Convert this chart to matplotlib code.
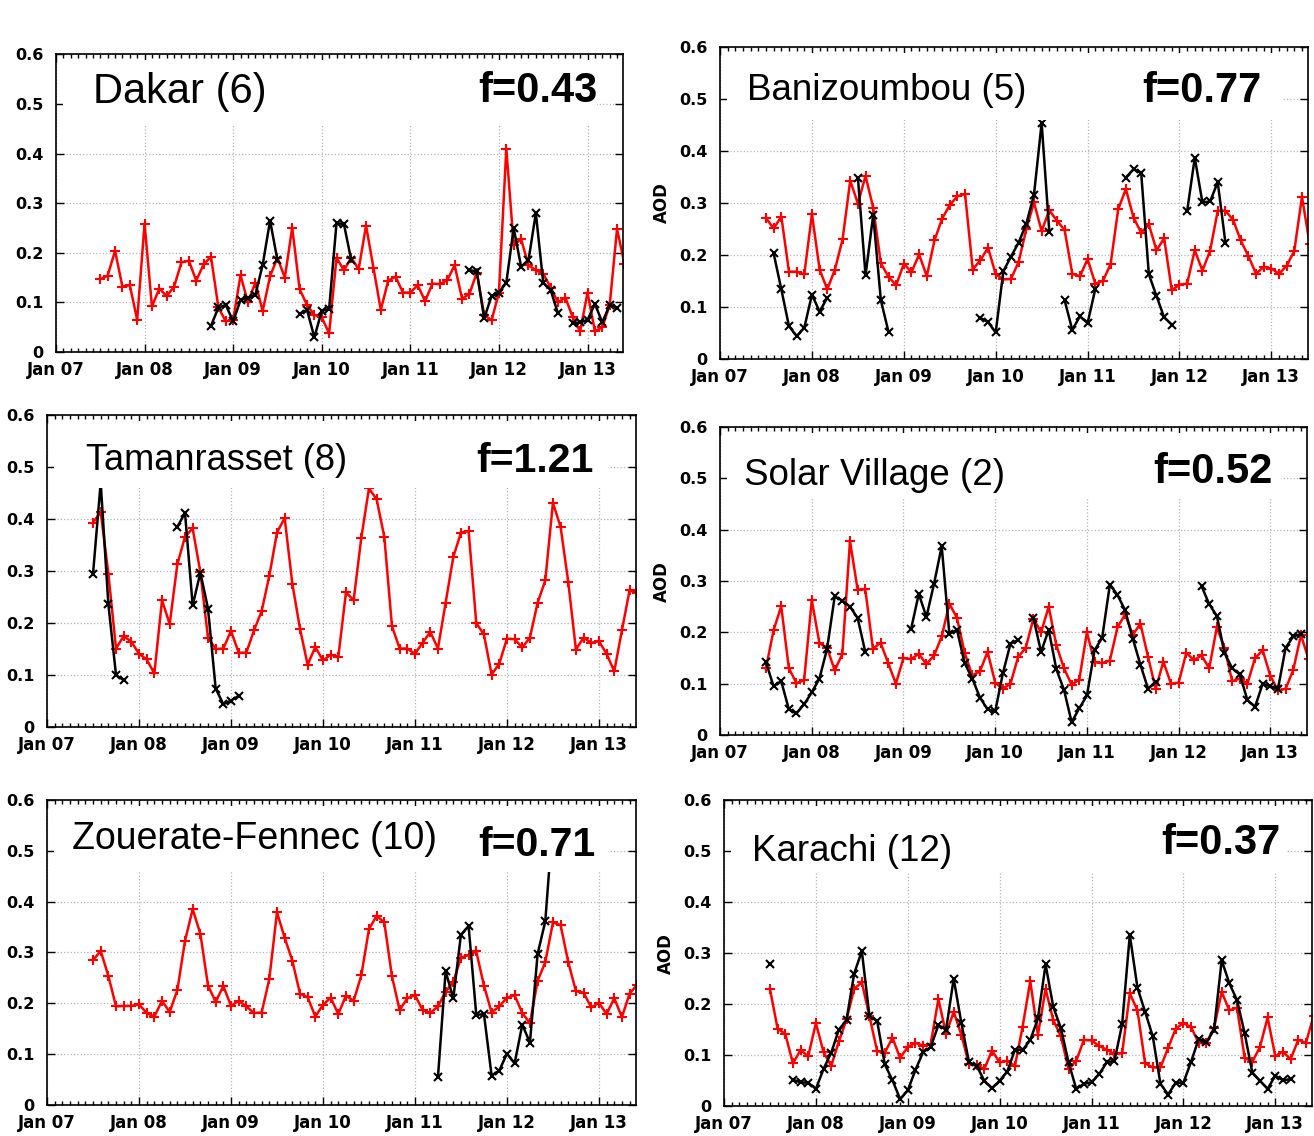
import numpy as np
import matplotlib
matplotlib.use('Agg')
import matplotlib.pyplot as plt
from matplotlib.ticker import MultipleLocator, FuncFormatter
from matplotlib.patches import Rectangle

nan = np.nan
first_month = 6   # Jul 2007, months counted from Jan 2007

# station names and scaling factors
stations = ['Dakar (6)', 'Banizoumbou (5)', 'Tamanrasset (8)',
            'Solar Village (2)', 'Zouerate-Fennec (10)', 'Karachi (12)']
f_labels = ['f=0.43', 'f=0.77', 'f=1.21', 'f=0.52', 'f=0.71', 'f=0.37']
year_labels = ['Jan 07', 'Jan 08', 'Jan 09', 'Jan 10', 'Jan 11', 'Jan 12', 'Jan 13']

# monthly AOD, Jul 07 .. Jun 13 (red = model, black = observed)
dakar_red = [0.147, 0.154, 0.204, 0.132, 0.135, 0.065, 0.259, 0.092, 0.128, 0.113, 0.132, 0.181,
             0.184, 0.144, 0.177, 0.192, 0.09, 0.062, 0.065, 0.155, 0.10, 0.14, 0.083, 0.153,
             0.19, 0.15, 0.251, 0.127, 0.095, 0.075, 0.07, 0.038, 0.19, 0.165, 0.19, 0.167,
             0.255, 0.17, 0.085, 0.144, 0.152, 0.12, 0.12, 0.135, 0.103, 0.138, 0.137, 0.145,
             0.175, 0.108, 0.117, 0.16, 0.075, 0.064, 0.12, 0.41, 0.215, 0.228, 0.175, 0.165,
             0.158, 0.13, 0.10, 0.11, 0.07, 0.042, 0.12, 0.042, 0.05, 0.095, 0.248, 0.178]
dakar_black = ([nan]*15 + [0.053, 0.09, 0.095, 0.062, 0.105, 0.11, 0.115, 0.176, 0.265, 0.185]
               + [nan]*2 + [0.077, 0.085, 0.03, 0.083, 0.087, 0.26, 0.258, 0.185]
               + [nan]*15 + [0.165, 0.163, 0.068, 0.113, 0.12, 0.14, 0.25, 0.172, 0.185, 0.28,
                             0.14, 0.125, 0.078]
               + [nan] + [0.058, 0.06, 0.065, 0.097, 0.06, 0.095, 0.088] + [nan])

bani_red = [0.271, 0.251, 0.274, 0.168, 0.168, 0.163, 0.279, 0.172, 0.134, 0.172, 0.23, 0.343,
            0.299, 0.352, 0.291, 0.184, 0.158, 0.142, 0.183, 0.167, 0.201, 0.159, 0.228, 0.27,
            0.296, 0.313, 0.317, 0.172, 0.19, 0.214, 0.163, 0.153, 0.154, 0.187, 0.25, 0.301,
            0.246, 0.286, 0.266, 0.248, 0.164, 0.159, 0.192, 0.145, 0.15, 0.182, 0.288, 0.327,
            0.272, 0.243, 0.259, 0.209, 0.232, 0.132, 0.143, 0.145, 0.209, 0.17, 0.208, 0.285,
            0.285, 0.268, 0.228, 0.198, 0.164, 0.177, 0.174, 0.164, 0.179, 0.208, 0.312, 0.222]
bani_black = ([nan] + [0.203, 0.134, 0.063, 0.044, 0.06, 0.124, 0.091, 0.118]
              + [nan]*3 + [0.349, 0.161, 0.277, 0.113, 0.052]
              + [nan]*11 + [0.079, 0.071, 0.051, 0.169, 0.197, 0.224, 0.26, 0.316, 0.454, 0.245]
              + [nan] + [0.113, 0.056, 0.082, 0.069, 0.134]
              + [nan]*3 + [0.349, 0.365, 0.358, 0.163, 0.121, 0.08, 0.066]
              + [nan] + [0.284, 0.387, 0.301, 0.303, 0.34, 0.224] + [nan]*11)

taman_red = [0.393, 0.414, 0.295, 0.151, 0.175, 0.164, 0.141, 0.13, 0.103, 0.244, 0.198, 0.313,
             0.366, 0.382, 0.298, 0.172, 0.15, 0.151, 0.185, 0.143, 0.143, 0.186, 0.223, 0.291,
             0.374, 0.402, 0.276, 0.189, 0.12, 0.154, 0.128, 0.139, 0.135, 0.259, 0.244, 0.364,
             0.459, 0.438, 0.366, 0.194, 0.151, 0.151, 0.141, 0.162, 0.183, 0.151, 0.239, 0.327,
             0.374, 0.377, 0.2, 0.178, 0.101, 0.122, 0.17, 0.169, 0.153, 0.172, 0.239, 0.282,
             0.431, 0.385, 0.279, 0.149, 0.172, 0.162, 0.165, 0.141, 0.107, 0.186, 0.263, 0.258]
taman_black = ([0.295, 0.47, 0.236, 0.1, 0.09] + [nan]*6
               + [0.385, 0.412, 0.234, 0.297, 0.228, 0.074, 0.044, 0.051, 0.06] + [nan]*52)

solar_red = [0.13, 0.204, 0.251, 0.13, 0.101, 0.107, 0.263, 0.179, 0.17, 0.126, 0.158, 0.378,
             0.283, 0.284, 0.168, 0.18, 0.14, 0.1, 0.15, 0.148, 0.158, 0.138, 0.155, 0.192,
             0.256, 0.228, 0.16, 0.116, 0.124, 0.162, 0.102, 0.09, 0.1, 0.152, 0.17, 0.227,
             0.2, 0.25, 0.175, 0.13, 0.098, 0.108, 0.2, 0.142, 0.14, 0.145, 0.21, 0.235,
             0.195, 0.217, 0.152, 0.09, 0.143, 0.1, 0.102, 0.16, 0.146, 0.155, 0.13, 0.21,
             0.17, 0.105, 0.11, 0.1, 0.15, 0.165, 0.115, 0.087, 0.09, 0.127, 0.195, 0.148]
solar_black = ([0.142, 0.095, 0.105, 0.05, 0.042, 0.06, 0.083, 0.11, 0.168, 0.27, 0.262, 0.25,
                0.228, 0.162]
               + [nan]*5 + [0.207, 0.275, 0.23, 0.295, 0.368, 0.197, 0.205, 0.14, 0.11, 0.073,
                            0.05, 0.046, 0.12, 0.178, 0.185]
               + [nan] + [0.228, 0.162, 0.205, 0.128, 0.088, 0.025, 0.052, 0.077, 0.165, 0.19,
                          0.293, 0.273, 0.243, 0.188, 0.137, 0.09, 0.104]
               + [nan]*5 + [0.29, 0.255, 0.232, 0.16, 0.13, 0.118, 0.068, 0.055, 0.1, 0.095,
                            0.09, 0.17, 0.192, 0.197]
               + [nan])

zouer_red = [0.285, 0.303, 0.254, 0.194, 0.195, 0.195, 0.198, 0.181, 0.174, 0.205, 0.183, 0.226,
             0.323, 0.385, 0.337, 0.235, 0.203, 0.234, 0.195, 0.205, 0.194, 0.181, 0.182, 0.248,
             0.379, 0.329, 0.284, 0.219, 0.212, 0.174, 0.197, 0.211, 0.179, 0.215, 0.205, 0.255,
             0.346, 0.372, 0.359, 0.253, 0.187, 0.21, 0.216, 0.187, 0.181, 0.194, 0.223, 0.242,
             0.29, 0.295, 0.302, 0.235, 0.182, 0.194, 0.211, 0.216, 0.181, 0.161, 0.244, 0.281,
             0.359, 0.354, 0.281, 0.224, 0.221, 0.192, 0.201, 0.179, 0.21, 0.173, 0.219, 0.237]
zouer_black = ([nan]*45 + [0.055, 0.263, 0.21, 0.335, 0.352, 0.177, 0.179, 0.058, 0.068, 0.101,
                           0.082, 0.158, 0.123, 0.297, 0.361, 0.56]
               + [nan]*11)

karachi_red = [0.23, 0.152, 0.142, 0.084, 0.11, 0.098, 0.163, 0.106, 0.079, 0.127, 0.17, 0.23,
               0.243, 0.176, 0.108, 0.105, 0.134, 0.095, 0.116, 0.124, 0.119, 0.122, 0.21, 0.142,
               0.185, 0.14, 0.082, 0.08, 0.073, 0.109, 0.086, 0.089, 0.079, 0.156, 0.245, 0.14,
               0.23, 0.169, 0.137, 0.073, 0.089, 0.13, 0.129, 0.118, 0.111, 0.102, 0.104, 0.221,
               0.188, 0.084, 0.076, 0.076, 0.114, 0.152, 0.163, 0.155, 0.124, 0.124, 0.153, 0.224,
               0.188, 0.193, 0.095, 0.087, 0.116, 0.174, 0.098, 0.107, 0.092, 0.13, 0.124, 0.177]
karachi_black = ([0.278] + [nan]*2
                 + [0.052, 0.047, 0.046, 0.034, 0.073, 0.105, 0.15, 0.169, 0.26, 0.304,
                    0.176, 0.167, 0.082, 0.051, 0.014, 0.031, 0.071, 0.106, 0.116, 0.159,
                    0.15, 0.25, 0.163, 0.086, 0.079, 0.05, 0.035, 0.05, 0.068, 0.111,
                    0.11, 0.13, 0.172, 0.278, 0.195, 0.153, 0.086, 0.034, 0.044, 0.047,
                    0.063, 0.086, 0.089, 0.161, 0.336, 0.232, 0.185, 0.137, 0.044, 0.023,
                    0.046, 0.046, 0.087, 0.132, 0.125, 0.15, 0.286, 0.241, 0.208, 0.143,
                    0.066, 0.05, 0.034, 0.06, 0.051, 0.053]
                 + [nan]*3)

red_series = [dakar_red, bani_red, taman_red, solar_red, zouer_red, karachi_red]
black_series = [dakar_black, bani_black, taman_black, solar_black, zouer_black, karachi_black]

# layout (figure fractions) and label placement per panel
positions = [[0.0426, 0.690, 0.4315, 0.2623], [0.548, 0.684, 0.4475, 0.2746],
             [0.0358, 0.360, 0.448, 0.2746], [0.548, 0.353, 0.4467, 0.271],
             [0.0358, 0.0272, 0.448, 0.2687], [0.551, 0.0262, 0.4475, 0.2695]]
title_xy = [(0.065, 0.872), (0.045, 0.86), (0.066, 0.853), (0.041, 0.843), (0.042, 0.871), (0.048, 0.833)]
title_size = [30, 26.5, 26, 26.5, 27, 26.5]
f_xy = [(0.955, 0.876), (0.92, 0.86), (0.929, 0.853), (0.942, 0.854), (0.932, 0.852), (0.946, 0.859)]
f_size = [30, 30, 29.5, 30, 29.5, 30]
show_ylabel = [False, True, False, True, False, True]

plt.rcParams['font.family'] = ['DejaVu Sans']

fig = plt.figure(figsize=(13.14, 11.36), dpi=100)

for i in range(6):
    ax = fig.add_axes(positions[i])
    red = np.array(red_series[i])
    black = np.array(black_series[i])
    months = first_month + np.arange(len(red))

    ax.plot(months, red, color='red', lw=1.8, marker='+', ms=7, mew=1.5, zorder=2)
    ax.plot(months, black, color='black', lw=1.8, marker='x', ms=5.5, mew=1.5, zorder=2.1)

    ax.set_xlim(0, 76.8)
    ax.set_ylim(0, 0.6)
    ax.set_xticks(np.arange(0, 73, 12))
    ax.set_xticklabels(year_labels)
    ax.xaxis.set_minor_locator(MultipleLocator(1))
    ax.yaxis.set_major_locator(MultipleLocator(0.1))
    ax.yaxis.set_major_formatter(FuncFormatter(lambda v, p: '0' if abs(v) < 1e-9 else '%.1f' % v))

    ax.tick_params(which='both', direction='in', top=True, right=True, width=1)
    ax.tick_params(which='major', length=6)
    ax.tick_params(axis='x', which='major', pad=6.5, labelsize=12)
    ax.tick_params(axis='y', which='major', pad=9, labelsize=11.5)
    ax.tick_params(which='minor', length=3)
    for lab in ax.get_xticklabels() + ax.get_yticklabels():
        lab.set_fontweight('bold')
    for sp in ax.spines.values():
        sp.set_linewidth(1.2)

    ax.grid(True, which='major', linestyle=':', color='#b5b5b5', lw=0.9)

    # white panel behind the station labels
    ax.add_patch(Rectangle((0.012, 0.765), 0.943, 0.215, transform=ax.transAxes,
                           facecolor='white', edgecolor='none', zorder=2.4))

    ax.text(title_xy[i][0], title_xy[i][1], stations[i], transform=ax.transAxes,
            fontsize=title_size[i], family=['Liberation Sans', 'DejaVu Sans'],
            ha='left', va='center', zorder=3)
    ax.text(f_xy[i][0], f_xy[i][1], f_labels[i], transform=ax.transAxes,
            fontsize=f_size[i], fontweight='bold', family=['Liberation Sans', 'DejaVu Sans'],
            ha='right', va='center', zorder=3)

    if show_ylabel[i]:
        ax.set_ylabel('AOD', fontsize=12, fontweight='bold', labelpad=6)

fig.savefig('out.png', dpi=100)
